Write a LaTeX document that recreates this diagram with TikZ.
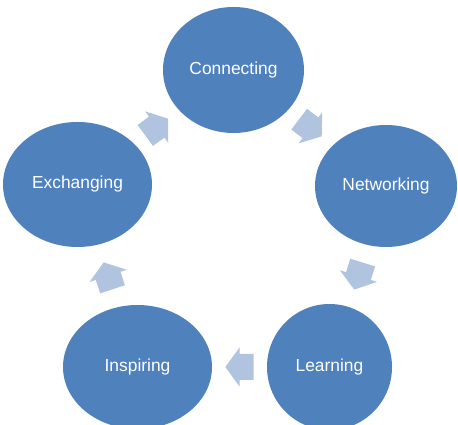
\documentclass[tikz,border=0pt]{standalone}
\usepackage{fontspec}
\setmainfont{Liberation Sans}
\usetikzlibrary{shapes.geometric,calc}
\definecolor{bubblefill}{HTML}{4F81BD}
\definecolor{arrowfill}{HTML}{B0C3DF}
\tikzset{
  bubble/.style={ellipse, fill=bubblefill, draw=none, text=white, inner sep=0pt, outer sep=0pt,
    font=\fontsize{17.4}{20}\selectfont},
  cyclearrow/.pic={\fill[arrowfill] (-14.15,-13) -- (0,-13) -- (0,-19.5) -- (14.15,0)
    -- (0,19.5) -- (0,13) -- (-14.15,13) -- cycle;}
}
\begin{document}
\begin{tikzpicture}[x=1pt,y=1pt]
\useasboundingbox (0,0) rectangle (458,425);
\clip (0,0) rectangle (458,425);
\fill[white] (0,0) rectangle (458,425);
\node[bubble, minimum width=141pt, minimum height=126pt] (conn) at (233.5,355) {Connecting};
\node[bubble, minimum width=142pt, minimum height=122pt] (netw) at (386,239) {Networking};
\node[bubble, minimum width=125pt, minimum height=126pt] (lear) at (329.5,58) {Learning};
\node[bubble, minimum width=149pt, minimum height=124pt] (insp) at (137.5,58) {Inspiring};
\node[bubble, minimum width=149pt, minimum height=125pt] (exch) at (77.5,240.5) {Exchanging};
\coordinate (a1) at ($(conn.-37.2)!0.5!(netw.142.8)$);
\coordinate (a2) at ($(netw.-107.3)!0.5!(lear.72.7)$);
\coordinate (a3) at ($(lear.180)!0.5!(insp.0)$);
\coordinate (a4) at ($(insp.108.2)!0.5!(exch.-71.8)$);
\coordinate (a5) at ($(exch.36.3)!0.5!(conn.-143.7)$);
\pic[rotate=-37.2] at (a1) {cyclearrow};
\pic[rotate=-107.3] at (a2) {cyclearrow};
\pic[rotate=180] at (a3) {cyclearrow};
\pic[rotate=108.2] at (a4) {cyclearrow};
\pic[rotate=36.3] at (a5) {cyclearrow};
\end{tikzpicture}
\end{document}
